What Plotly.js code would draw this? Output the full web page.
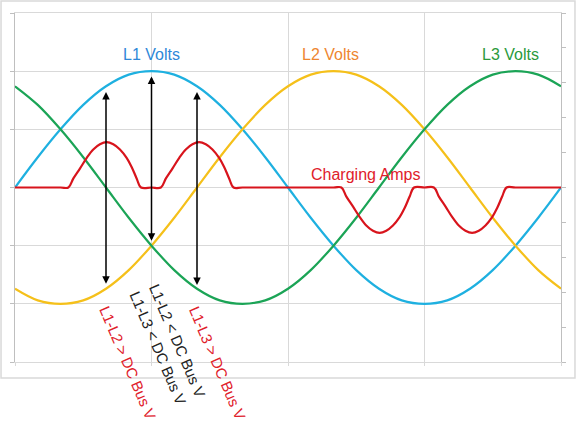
<!DOCTYPE html>
<html>
<head>
<meta charset="utf-8">
<script src="https://cdn.plot.ly/plotly-3.0.1.min.js"></script>
<style>html,body{margin:0;padding:0;background:#fff;}#chart{width:578px;height:437px;}</style>
</head>
<body>
<div id="chart"></div>
<script>
// Phase angle (degrees) for voltage samples
const voltDeg = [0,15,30,45,60,75,90,105,120,135,150,165,180,195,210,225,240,255,270,285,300,315,330,345,360];
const l1Volts = [0,0.26,0.5,0.71,0.87,0.97,1,0.97,0.87,0.71,0.5,0.26,0,-0.26,-0.5,-0.71,-0.87,-0.97,-1,-0.97,-0.87,-0.71,-0.5,-0.26,0];
const l2Volts = [-0.87,-0.97,-1,-0.97,-0.87,-0.71,-0.5,-0.26,0,0.26,0.5,0.71,0.87,0.97,1,0.97,0.87,0.71,0.5,0.26,0,-0.26,-0.5,-0.71,-0.87];
const l3Volts = [0.87,0.71,0.5,0.26,0,-0.26,-0.5,-0.71,-0.87,-0.97,-1,-0.97,-0.87,-0.71,-0.5,-0.26,0,0.26,0.5,0.71,0.87,0.97,1,0.97,0.87];

// Charging amps samples
const ampsDeg = [0,30,35.2,38.5,42.9,47.3,51.6,56,60.4,64.8,69.2,73.6,76.9,80.2,83.1,90,
  96.2,99.5,103.9,108.3,112.6,117,121.4,125.8,130.2,134.6,137.9,141.2,144.1,150,210,
  215.2,218.5,222.9,227.3,231.6,236,240.4,244.8,249.2,253.6,256.9,260.2,263.1,270,
  276.2,279.5,283.9,288.3,292.6,297,301.4,305.8,310.2,314.6,317.9,321.2,324.1,330,360];
const ampsVal = [0,0,0,0.26,0.55,0.85,1.09,1.24,1.3,1.24,1.09,0.85,0.59,0.26,0,0,
  0,0.26,0.55,0.85,1.09,1.24,1.3,1.24,1.09,0.85,0.59,0.26,0,0,0,
  0,-0.26,-0.55,-0.85,-1.09,-1.24,-1.3,-1.24,-1.09,-0.85,-0.59,-0.26,0,0,
  0,-0.26,-0.55,-0.85,-1.09,-1.24,-1.3,-1.24,-1.09,-0.85,-0.59,-0.26,0,0,0];

// Labels
const seriesLabels = ['L1 Volts','L2 Volts','L3 Volts','Charging Amps'];
const seriesLabelPos = [[90,1.14],[207.7,1.14],[326.4,1.14],[230.8,0.115]];
const rotLabels = ['L1-L2 > DC Bus V','L1-L3 < DC Bus V','L1-L2 < DC Bus V','L1-L3 > DC Bus V'];
const rotLabelPos = [[74.2,-0.002],[94.3,0.042],[107.1,0.062],[133.8,-0.003]];
// Arrows: [deg, topValue, bottomValue]
const arrows = [[60,0.82,-0.84],[90,0.955,-0.47],[120,0.82,-0.85]];

const lineColors = ['#1eb0e0','#f5c01a','#1ba456','#d8141c'];
const textColors = ['#2e88d8','#ee8630','#2a9a3c','#e0202a'];
const rotColors = ['#e0202a','#222222','#222222','#e0202a'];

const fontFam = 'Arial, "Liberation Sans", sans-serif';

const traces = [
  {x: voltDeg, y: l1Volts, name: seriesLabels[0], mode:'lines', line:{color:lineColors[0], width:2.2, shape:'spline'}},
  {x: voltDeg, y: l2Volts, name: seriesLabels[1], mode:'lines', line:{color:lineColors[1], width:2.2, shape:'spline'}},
  {x: voltDeg, y: l3Volts, name: seriesLabels[2], mode:'lines', line:{color:lineColors[2], width:2.2, shape:'spline'}},
  {x: ampsDeg, y: ampsVal, name: seriesLabels[3], yaxis:'y2', mode:'lines', line:{color:lineColors[3], width:2.2, shape:'spline', smoothing:1}}
];

const annotations = [];
seriesLabels.forEach((t,i)=>{
  annotations.push({x:seriesLabelPos[i][0], y:seriesLabelPos[i][1], xref:'x', yref:'y', text:t, showarrow:false,
    font:{family:fontFam, size:16, color:textColors[i]}, xanchor:'center', yanchor:'middle'});
});
rotLabels.forEach((t,i)=>{
  annotations.push({x:rotLabelPos[i][0], y:rotLabelPos[i][1], xref:'x', yref:'paper', text:t, showarrow:false, textangle:67,
    font:{family:fontFam, size:15, color:rotColors[i]}, xanchor:'center', yanchor:'middle'});
});
arrows.forEach(a=>{
  annotations.push({x:a[0], y:a[1], ax:a[0], ay:a[2], xref:'x', yref:'y', axref:'x', ayref:'y', text:'', showarrow:true,
    arrowhead:2, startarrowhead:2, arrowside:'end+start', arrowsize:1, startarrowsize:1, arrowwidth:1.5, arrowcolor:'#000', standoff:0, startstandoff:0});
});

const layout = {
  width:578, height:437,
  margin:{l:15, r:17, t:13, b:75, pad:0},
  paper_bgcolor:'#fff', plot_bgcolor:'#fff',
  showlegend:false,
  xaxis:{range:[0,360], dtick:90, tick0:0, showticklabels:false, showgrid:true, gridcolor:'#d9d9d9', gridwidth:1,
    zeroline:false, showline:true, mirror:true, linecolor:'#d9d9d9', linewidth:1, ticks:'outside', ticklen:3, tickcolor:'#d9d9d9', fixedrange:true},
  yaxis:{range:[-1.5,1.5], dtick:0.5, tick0:0, showticklabels:false, showgrid:true, gridcolor:'#d9d9d9', gridwidth:1,
    zeroline:false, showline:true, linecolor:'#bfbfbf', linewidth:1, ticks:'outside', ticklen:4, tickcolor:'#bfbfbf', fixedrange:true},
  yaxis2:{range:[-5,5], dtick:1, tick0:0, overlaying:'y', side:'right', showticklabels:false, showgrid:false,
    zeroline:false, showline:true, linecolor:'#bfbfbf', linewidth:1, ticks:'outside', ticklen:4, tickcolor:'#bfbfbf', fixedrange:true},
  annotations: annotations,
  shapes:[{type:'rect', xref:'paper', yref:'paper', x0:-0.0256, x1:1.0256, y0:-0.0458, y1:1.0344,
    line:{color:'#d9d9d9', width:1.5}, fillcolor:'rgba(0,0,0,0)', layer:'below'}]
};

Plotly.newPlot('chart', traces, layout, {displayModeBar:false, staticPlot:true});
</script>
</body>
</html>
